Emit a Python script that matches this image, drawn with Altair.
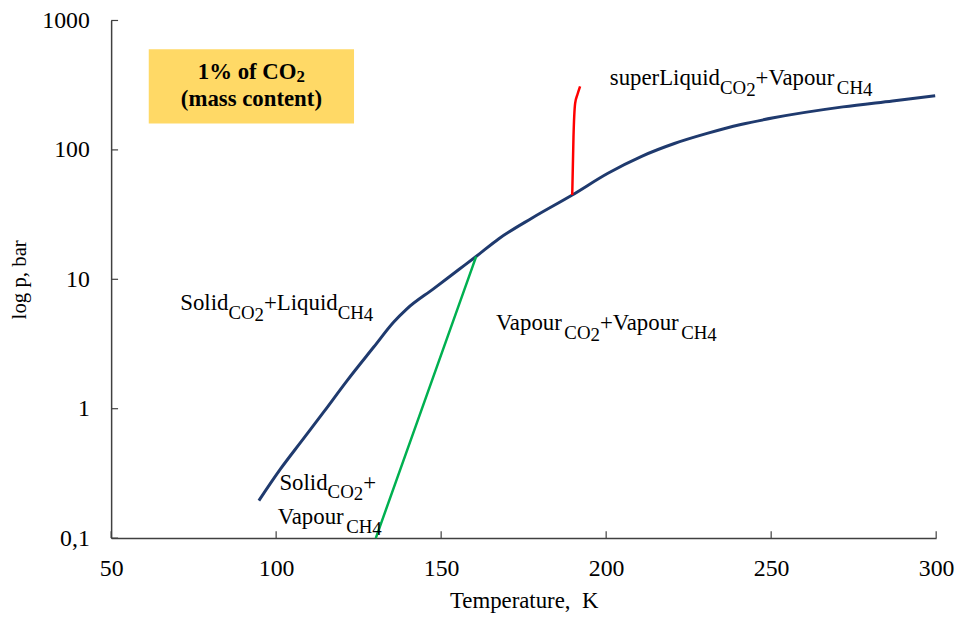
import altair as alt
import pandas as pd

# ---------------- data ----------------
blue_T = [94.77, 101.38, 107.99, 114.60, 121.51, 129.63, 135.64, 139.54, 147.66,
          155.47, 160.58, 167.49, 177.70, 189.72, 200.54, 210.76, 220.67, 230.59,
          240.81, 250.72, 271.75, 286.78, 299.70]
blue_p = [0.195, 0.344, 0.574, 0.957, 1.65, 3.01, 4.68, 5.89, 8.44,
          11.95, 15.0, 20.6, 29.9, 44.8, 66.0, 89.2, 112.0, 134.0,
          157.0, 177.0, 215.0, 239.0, 262.0]

red_T = [189.72, 190.1, 190.6, 191.3, 192.1]
red_p = [44.8, 126.0, 229.0, 268.0, 310.0]

green_T = [130.2, 159.6, 160.6]
green_p = [0.1, 12.7, 15.0]

x_ticks = [50, 100, 150, 200, 250, 300]
y_ticks = [0.1, 1, 10, 100, 1000]

# annotation anchors (data units: T, p at text baseline)
label_anchor_T = [70.94, 166.6, 201.1, 101.0, 100.5]
label_anchor_p = [5.79, 4.06, 318.0, 0.2374, 0.128]
label_parts = [
    [("Solid", 0), ("CO", 1), ("2", 2), ("+Liquid", 0), ("CH", 1), ("4", 2)],
    [("Vapour", 0), ("CO", 1), ("2", 2), ("+Vapour", 0), ("CH", 1), ("4", 2)],
    [("superLiquid", 0), ("CO", 1), ("2", 2), ("+Vapour", 0), ("CH", 1), ("4", 2)],
    [("Solid", 0), ("CO", 1), ("2", 2), ("+", 0)],
    [("Vapour", 0), ("CH", 1), ("4", 2)],
]

box_T = [61.4, 123.6]
box_p = [160.0, 600.0]
box_line1_p = 353.0
box_line2_p = 219.0
box_title = "1% of CO"
box_sub = "2"
box_line2 = "(mass content)"

# ---------------- layout / styles ----------------
W, H = 832, 522
PXK = W / (x_ticks[-1] - x_ticks[0])
FONT = "Liberation Serif"
SIZES = {0: 23, 1: 19, 2: 19}
DY = {0: 0, 1: 9, 2: 11}
BOXFS = 23

# Times / Liberation Serif advance widths (1/1000 em)
TW = {"S": 556, "o": 500, "l": 278, "i": 278, "d": 500, "C": 667, "O": 722,
      "H": 722, "2": 500, "4": 500, "+": 564, "L": 611, "q": 500, "u": 500,
      "V": 722, "a": 444, "p": 500, "r": 333, "s": 389, "e": 444}
TWB = {"1": 500, "%": 1000, " ": 250, "o": 500, "f": 333, "C": 722, "O": 778,
       "2": 500}


def tw(s, size, table=TW):
    return sum(table[c] for c in s) * size / 1000.0


rows = []
for T0, p0, parts in zip(label_anchor_T, label_anchor_p, label_parts):
    off = 0.0
    for s, lvl in parts:
        rows.append(dict(T=T0 + off / PXK, p=p0, text=s, level=lvl))
        off += tw(s, SIZES[lvl])
labels = pd.DataFrame(rows)

# box title pieces
box_cT = (box_T[0] + box_T[1]) / 2
w1 = tw(box_title, BOXFS, TWB)
w2 = tw(box_sub, 17, TWB)
start = box_cT - (w1 + w2) / 2 / PXK
box_text = pd.DataFrame([dict(T=start, p=box_line1_p, text=box_title)])
box_text_sub = pd.DataFrame([dict(T=start + w1 / PXK, p=box_line1_p, text=box_sub)])
box_text2 = pd.DataFrame([dict(T=box_cT, p=box_line2_p, text=box_line2)])

blue = pd.DataFrame({"T": blue_T, "p": blue_p})
red = pd.DataFrame({"T": red_T, "p": red_p})
green = pd.DataFrame({"T": green_T, "p": green_p})
box = pd.DataFrame({"T": [box_T[0]], "T2": [box_T[1]], "p": [box_p[0]], "p2": [box_p[1]]})

xs = alt.Scale(domain=[x_ticks[0], x_ticks[-1]], nice=False, zero=False)
ys = alt.Scale(type="log", domain=[y_ticks[0], y_ticks[-1]], nice=False)

xaxis = alt.Axis(values=x_ticks, title="Temperature,\u00a0 K", grid=False, ticks=False,
                 tickSize=0, labelFont=FONT, labelFontSize=24, labelColor="black",
                 labelPadding=19, domainColor="#404040", domainWidth=1.5,
                 titleFont=FONT, titleFontSize=23, titleFontWeight="normal",
                 titleColor="black", titlePadding=9, labelFlush=False)
yaxis = alt.Axis(values=y_ticks, title="log p, bar", grid=False, ticks=False,
                 tickSize=0, labelFont=FONT, labelFontSize=24, labelColor="black",
                 labelPadding=22,
                 labelExpr="replace(format(datum.value, '~g'), '.', ',')",
                 domainColor="#404040", domainWidth=1.5,
                 titleFont=FONT, titleFontSize=21, titleFontWeight="normal",
                 titleColor="black", titlePadding=12, labelFlush=False)

X = alt.X("T:Q", scale=xs, axis=xaxis)
Y = alt.Y("p:Q", scale=ys, axis=yaxis)

rect = alt.Chart(box).mark_rect(color="#FFD966").encode(
    x=X, x2="T2:Q", y=Y, y2="p2:Q")

l_blue = alt.Chart(blue).mark_line(color="#1F3A6E", strokeWidth=3,
                                   interpolate="monotone").encode(x=X, y=Y)
l_red = alt.Chart(red).mark_line(color="#FF0000", strokeWidth=2.5,
                                 interpolate="monotone").encode(x=X, y=Y)
l_green = alt.Chart(green).mark_line(color="#00B050", strokeWidth=2.5).encode(x=X, y=Y)

xt = alt.Chart(pd.DataFrame({"T": x_ticks})).mark_rule(color="#404040", strokeWidth=1.2).encode(
    x=X, y=alt.value(H), y2=alt.value(H - 7))
yt = alt.Chart(pd.DataFrame({"p": y_ticks})).mark_rule(color="#404040", strokeWidth=1.2).encode(
    y=Y, x=alt.value(0), x2=alt.value(7))

text_layers = []
for lvl in (0, 1, 2):
    text_layers.append(
        alt.Chart(labels[labels["level"] == lvl]).mark_text(
            align="left", baseline="alphabetic", font=FONT,
            fontSize=SIZES[lvl], dy=DY[lvl], color="black"
        ).encode(x=X, y=Y, text="text:N")
    )

bt1 = alt.Chart(box_text).mark_text(align="left", baseline="alphabetic", font=FONT,
                                    fontSize=BOXFS, fontWeight="bold", color="black").encode(
    x=X, y=Y, text="text:N")
bt1s = alt.Chart(box_text_sub).mark_text(align="left", baseline="alphabetic", font=FONT,
                                         fontSize=17, fontWeight="bold", dy=3, color="black").encode(
    x=X, y=Y, text="text:N")
bt2 = alt.Chart(box_text2).mark_text(align="center", baseline="alphabetic", font=FONT,
                                     fontSize=BOXFS, fontWeight="bold", color="black").encode(
    x=X, y=Y, text="text:N")

chart = alt.layer(rect, l_blue, l_red, l_green, xt, yt, *text_layers, bt1, bt1s, bt2).properties(
    width=W, height=H,
    autosize=alt.AutoSizeParams(type="none"),
    padding={"left": 104, "top": 10, "right": 21, "bottom": 82},
    background="white",
).configure_view(stroke=None)

chart.save("out.html", embed_options={"renderer": "svg", "actions": False})
